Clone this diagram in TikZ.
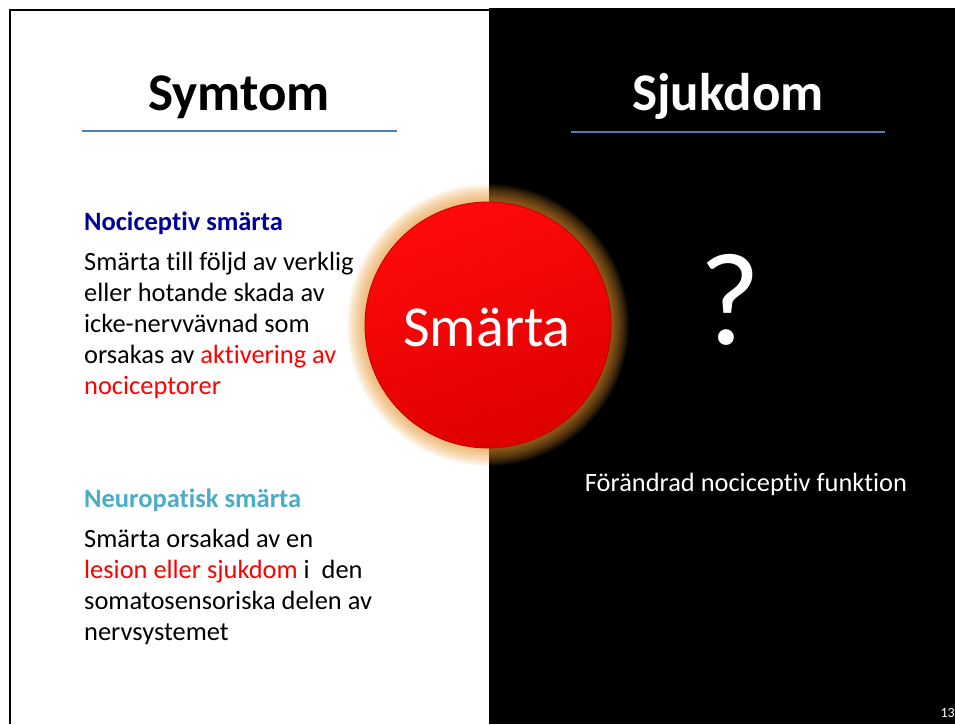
\documentclass[tikz,border=0pt]{standalone}
\usepackage{fontspec}
\setmainfont{Carlito}[Ligatures=NoCommon]
\definecolor{lineblue}{RGB}{74,126,187}
\definecolor{headblue}{RGB}{0,0,153}
\definecolor{neuroblue}{RGB}{75,172,198}
\definecolor{glow}{RGB}{240,155,50}
\definecolor{redtop}{RGB}{255,10,10}
\definecolor{redbot}{RGB}{222,0,0}
\definecolor{rededge}{RGB}{190,0,0}
\tikzset{
  title/.style={anchor=base, inner sep=0, font=\fontsize{53}{60}\selectfont\bfseries},
  head/.style={anchor=base west, inner sep=0, font=\fontsize{26.5}{31}\selectfont\bfseries},
  body/.style={anchor=base west, inner sep=0, font=\fontsize{26.4}{31}\selectfont},
  rule/.style={draw=lineblue, line width=2.5pt},
}
\begin{document}
\begin{tikzpicture}[x=1pt,y=-1pt]
\useasboundingbox (0,0) rectangle (955,724);
\fill[white] (0,0) rectangle (955,724);
% black half
\fill[black] (489,8) rectangle (955,724);
% frame on left part
\draw[line width=2.5pt] (10,724) -- (10,10) -- (489,10);
% titles
\node[title] (symtom) at (239,110) {Symtom};
\node[title, text=white] (sjukdom) at (728,110) {Sjukdom};
\coordinate (l1a) at (82,131);
\coordinate (l1b) at (397,131);
\coordinate (l2a) at (571,132);
\coordinate (l2b) at (885,132);
\draw[rule] (l1a) -- (l1b);
\draw[rule] (l2a) -- (l2b);
% glow
\coordinate (c) at (488,325);
\foreach \r in {1,...,18} {
  \fill[glow, opacity=0.05] (c) circle ({123+\r});
}
% ball
\node[circle, inner sep=0, minimum size=246, draw=rededge, line width=0.8pt,
      top color=redtop, bottom color=redbot, shading angle=20] (ball) at (c) {};
\node[anchor=base, inner sep=0, text=white, font=\fontsize{58}{64}\selectfont] (smarta) at (487,346) {Smärta};
% right side
\node[anchor=base, inner sep=0, text=white, font=\fontsize{132}{140}\selectfont] (q) at (730,344) {?};
\node[anchor=base, inner sep=0, text=white, font=\fontsize{26.4}{31}\selectfont] (forandrad) at (746,491) {Förändrad nociceptiv funktion};
% left: nociceptiv
\node[head, text=headblue] (h1) at (84,230) {Nociceptiv smärta};
\node[body] (a1) at (84,270) {Smärta till följd av verklig};
\node[body] (a2) at (84,301) {eller hotande skada av};
\node[body] (a3) at (84,332) {icke-nervvävnad som};
\node[body] (a4) at (84,363) {orsakas av \textcolor{red}{aktivering av}};
\node[body, text=red] (a5) at (84,394) {nociceptorer};
% left: neuropatisk
\node[head, text=neuroblue] (h2) at (84,507) {Neuropatisk smärta};
\node[body] (b1) at (84,547) {Smärta orsakad av en};
\node[body] (b2) at (84,578) {\textcolor{red}{lesion eller sjukdom} i\ \ den};
\node[body] (b3) at (84,609) {somatosensoriska delen av};
\node[body] (b4) at (84,640) {nervsystemet};
% page number
\node[anchor=base east, inner sep=0, text=white, font=\fontsize{14}{16}\selectfont] (pg) at (955,717) {13};
\end{tikzpicture}
\end{document}
